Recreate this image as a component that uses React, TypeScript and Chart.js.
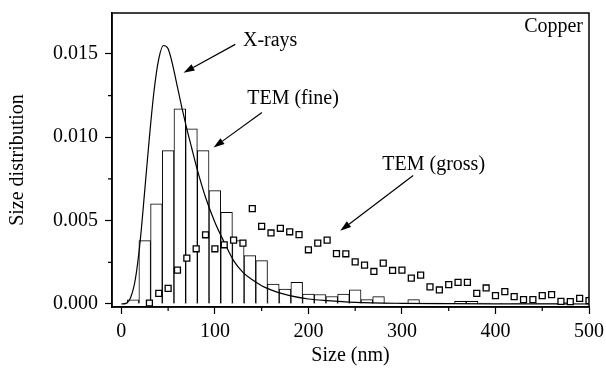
import React, { useEffect, useRef } from "react";
import { Chart, registerables } from "chart.js";

Chart.register(...registerables);

// Histogram: TEM (fine) — bin centres (nm) and heights
const binCenters = [12.5, 25, 37.5, 50, 62.5, 75, 87.5, 100, 112.5, 125, 137.5, 150, 162.5, 175, 187.5, 200, 212.5, 225, 237.5, 250, 262.5, 275, 287.5, 300, 312.5, 325, 337.5, 350, 362.5, 375, 387.5, 400, 412.5, 425, 437.5, 450, 462.5, 475, 487.5];
const temFine = [0.00025, 0.0038, 0.006, 0.0092, 0.0117, 0.0105, 0.0092, 0.0068, 0.0055, 0.0038, 0.0029, 0.0026, 0.0012, 0.0009, 0.0013, 0.0006, 0.00057, 0.00045, 0.0006, 0.00085, 0.00026, 0.00044, 0.00004, 0.00003, 0.00026, 0.00003, 0.00005, 0.00004, 0.00016, 0.00016, 0.00005, 0.00003, 0.00003, 0.00002, 0.00003, 0.00002, 0.00002, 0.0001, 0.00003];

// TEM (gross) — squares
const grossX = [30, 40, 50, 60, 70, 80, 90, 100, 110, 120, 130, 140, 150, 160, 170, 180, 190, 200, 210, 220, 230, 240, 250, 260, 270, 280, 290, 300, 310, 320, 330, 340, 350, 360, 370, 380, 390, 400, 410, 420, 430, 440, 450, 460, 470, 480, 490, 500];
const grossY = [0.00006, 0.00064, 0.00094, 0.00203, 0.00275, 0.00331, 0.00415, 0.00331, 0.00355, 0.00383, 0.00365, 0.00572, 0.00466, 0.00426, 0.00454, 0.00433, 0.00416, 0.00325, 0.00365, 0.00383, 0.00302, 0.00301, 0.00253, 0.00233, 0.00195, 0.00245, 0.00201, 0.00203, 0.00155, 0.00173, 0.00103, 0.00084, 0.00116, 0.0013, 0.0013, 0.00064, 0.00096, 0.0005, 0.00074, 0.00044, 0.00026, 0.00026, 0.0005, 0.00056, 0.00016, 0.00014, 0.00034, 0.0002];

// X-rays curve
const xrayX = [0, 5, 10, 15, 20, 25, 30, 35, 40, 45, 50, 55, 60, 65, 70, 75, 80, 90, 100, 110, 120, 130, 140, 150, 160, 170, 180, 200, 220, 250, 300, 350, 400, 450, 500];
const xrayY = [0, 0.00004, 0.0004, 0.0015, 0.0037, 0.0068, 0.01, 0.0128, 0.0147, 0.0155, 0.0153, 0.0143, 0.013, 0.0117, 0.0105, 0.0094, 0.0083, 0.0064, 0.0049, 0.0037, 0.0026, 0.0019, 0.00145, 0.0011, 0.00085, 0.00065, 0.0005, 0.0003, 0.0002, 0.0001, 0.00004, 0.00002, 0.00001, 0.000005, 0];

// Annotations (data coordinates)
const labelTexts = ["X-rays", "TEM (fine)", "TEM (gross)", "Copper"];
const labelX = [130, 134.6, 279, 493.6];
const labelY = [0.0158, 0.01228, 0.00838, 0.0166];
const labelAlign = ["left", "left", "left", "right"];
const arrowFromX = [121.8, 150.3, 312];
const arrowFromY = [0.01557, 0.01148, 0.0077];
const arrowToX = [66.5, 98.6, 234];
const arrowToY = [0.01387, 0.00938, 0.00439];

const FONT = "'Liberation Serif', 'Times New Roman', serif";

const decorPlugin = {
  id: "decor",
  afterDatasetsDraw(chart: any) {
    const { ctx, chartArea, scales } = chart;
    const xs = scales.x;
    const ys = scales.y;
    ctx.save();
    // frame
    ctx.strokeStyle = "#000";
    ctx.lineWidth = 1.5;
    ctx.strokeRect(chartArea.left, chartArea.top, chartArea.right - chartArea.left, chartArea.bottom - chartArea.top);
    // minor ticks
    ctx.lineWidth = 1.2;
    ctx.beginPath();
    for (let v = 50; v < 500; v += 100) {
      const px = xs.getPixelForValue(v);
      ctx.moveTo(px, chartArea.bottom);
      ctx.lineTo(px, chartArea.bottom + 4);
    }
    for (let v = 0.0025; v < 0.0175; v += 0.005) {
      const py = ys.getPixelForValue(v);
      ctx.moveTo(chartArea.left, py);
      ctx.lineTo(chartArea.left - 4, py);
    }
    ctx.stroke();
    // labels
    ctx.fillStyle = "#000";
    ctx.font = "20px " + FONT;
    ctx.textBaseline = "middle";
    for (let i = 0; i < labelTexts.length; i++) {
      ctx.textAlign = labelAlign[i] as CanvasTextAlign;
      ctx.fillText(labelTexts[i], xs.getPixelForValue(labelX[i]), ys.getPixelForValue(labelY[i]));
    }
    // arrows
    ctx.lineWidth = 1.2;
    for (let i = 0; i < arrowFromX.length; i++) {
      const x1 = xs.getPixelForValue(arrowFromX[i]);
      const y1 = ys.getPixelForValue(arrowFromY[i]);
      const x2 = xs.getPixelForValue(arrowToX[i]);
      const y2 = ys.getPixelForValue(arrowToY[i]);
      const ang = Math.atan2(y2 - y1, x2 - x1);
      const hl = 11;
      const hw = 3.5;
      const bx = x2 - hl * Math.cos(ang);
      const by = y2 - hl * Math.sin(ang);
      ctx.beginPath();
      ctx.moveTo(x1, y1);
      ctx.lineTo(bx, by);
      ctx.stroke();
      ctx.beginPath();
      ctx.moveTo(x2, y2);
      ctx.lineTo(bx + hw * Math.sin(ang), by - hw * Math.cos(ang));
      ctx.lineTo(bx - hw * Math.sin(ang), by + hw * Math.cos(ang));
      ctx.closePath();
      ctx.fill();
    }
    ctx.restore();
  },
};

export default function App() {
  const ref = useRef<HTMLCanvasElement | null>(null);
  useEffect(() => {
    document.body.style.margin = "0";
    const canvas = ref.current;
    if (!canvas) return;
    const chart = new Chart(canvas, {
      type: "bar",
      data: {
        datasets: [
          {
            type: "scatter",
            label: "TEM (gross)",
            data: grossX.map((x, i) => ({ x, y: grossY[i] })),
            pointStyle: "rect",
            pointRadius: 4.2,
            pointBackgroundColor: "#fff",
            pointBorderColor: "#000",
            pointBorderWidth: 1.3,
            showLine: false,
            order: 0,
          } as any,
          {
            type: "line",
            label: "X-rays",
            data: xrayX.map((x, i) => ({ x, y: xrayY[i] })),
            borderColor: "#000",
            borderWidth: 1.2,
            pointRadius: 0,
            fill: false,
            cubicInterpolationMode: "monotone",
            order: 1,
          } as any,
          {
            type: "bar",
            label: "TEM (fine)",
            data: binCenters.map((x, i) => ({ x, y: temFine[i] })),
            backgroundColor: "#fff",
            borderColor: "#000",
            borderWidth: 1,
            barPercentage: 1,
            categoryPercentage: 1,
            grouped: false,
            order: 2,
          } as any,
        ],
      },
      options: {
        animation: false,
        responsive: false,
        maintainAspectRatio: false,
        layout: { padding: { left: 0, top: 13, right: 17, bottom: 0 } },
        plugins: { legend: { display: false }, tooltip: { enabled: false } },
        scales: {
          x: {
            type: "linear",
            offset: false,
            min: -10,
            max: 500,
            afterFit: (s: any) => {
              s.height = 64;
              s.paddingLeft = 0;
              s.paddingRight = 0;
            },
            border: { display: true, color: "#000", width: 1.5 },
            grid: {
              offset: false,
              drawOnChartArea: false,
              drawTicks: true,
              tickLength: 7,
              tickWidth: 1.2,
              tickColor: (c: any) => (c.tick && Math.round(c.tick.value) % 100 === 0 ? "#000" : "rgba(0,0,0,0)"),
            },
            ticks: {
              stepSize: 50,
              includeBounds: false,
              maxRotation: 0,
              autoSkip: false,
              color: "#000",
              padding: 6,
              font: { family: FONT, size: 20 },
              callback: (v: any) => (Math.round(v) % 100 === 0 ? String(Math.round(v)) : ""),
            },
            title: {
              display: true,
              text: "Size (nm)",
              color: "#000",
              font: { family: FONT, size: 20 },
              padding: { top: 0, bottom: 3 },
            },
          },
          y: {
            type: "linear",
            min: -0.00018,
            max: 0.01745,
            afterFit: (s: any) => {
              s.width = 112;
              s.paddingTop = 0;
              s.paddingBottom = 0;
            },
            border: { display: true, color: "#000", width: 1.5 },
            grid: {
              drawOnChartArea: false,
              drawTicks: true,
              tickLength: 7,
              tickWidth: 1.2,
              tickColor: (c: any) => (c.tick && Math.round(c.tick.value / 0.0025) % 2 === 0 ? "#000" : "rgba(0,0,0,0)"),
            },
            ticks: {
              stepSize: 0.0025,
              includeBounds: false,
              autoSkip: false,
              color: "#000",
              padding: 7,
              font: { family: FONT, size: 20 },
              callback: (v: any) => (Math.round(v / 0.0025) % 2 === 0 ? Number(v).toFixed(3) : ""),
            },
            title: {
              display: true,
              text: "Size distribution",
              color: "#000",
              font: { family: FONT, size: 20 },
              padding: { top: 6, bottom: 0 },
            },
          },
        },
      },
      plugins: [decorPlugin],
    });
    return () => chart.destroy();
  }, []);
  return (
    <div style={{ width: 606, height: 371 }}>
      <canvas ref={ref} width={606} height={371} style={{ display: "block" }} />
    </div>
  );
}
